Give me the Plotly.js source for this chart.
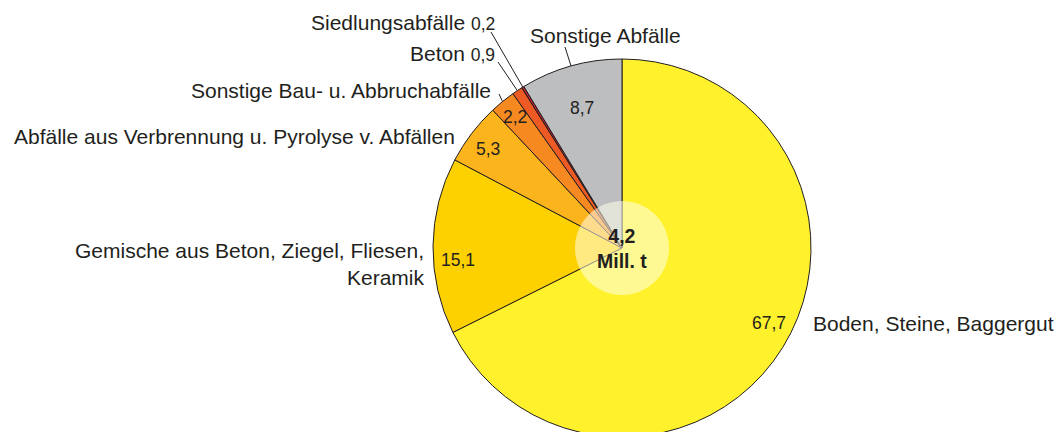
<!DOCTYPE html>
<html>
<head>
<meta charset="utf-8">
<script src="https://cdn.plot.ly/plotly-3.0.1.min.js"></script>
<style>
html,body{margin:0;padding:0;background:#fff;}
#wrap{width:1059px;height:432px;overflow:hidden;position:relative;}
#chart{width:1059px;height:440px;}
</style>
</head>
<body>
<div id="wrap"><div id="chart"></div></div>
<script>
// ---- data ----
const categories = [
  "Boden, Steine, Baggergut",
  "Gemische aus Beton, Ziegel, Fliesen, Keramik",
  "Abfälle aus Verbrennung u. Pyrolyse v. Abfällen",
  "Sonstige Bau- u. Abbruchabfälle",
  "Beton",
  "Siedlungsabfälle",
  "Sonstige Abfälle"
];
const shares = [67.7, 15.1, 5.3, 2.2, 0.9, 0.2, 8.7];
const totalValue = "4,2";
const totalUnit = "Mill. t";
const sliceColors = ["#fff12b", "#fdd100", "#fbb41b", "#f68a20", "#ee5a23", "#be1e2d", "#bcbec0"];

// ---- geometry / style ----
const W = 1059, H = 440;
const CX = 622, CY = 248, R = 189;
const INK = "#231f20";
const FONT = "Liberation Sans, Arial, Helvetica, sans-serif";
const px = (x) => x / W;
const py = (y) => 1 - y / H;
const fmt = (v) => v.toFixed(1).replace(".", ",");

const total = shares.reduce((a, b) => a + b, 0);
const midAngle = [];
let cum = 0;
shares.forEach(v => { midAngle.push((cum + v / 2) / total * 360); cum += v; });
function polar(i, k, dAng) {
  const a = (midAngle[i] + (dAng || 0)) * Math.PI / 180;
  return [CX + R * k * Math.sin(a), CY - R * k * Math.cos(a)];
}

const trace = {
  type: "pie",
  values: shares,
  labels: categories,
  sort: false,
  direction: "clockwise",
  rotation: 0,
  textinfo: "none",
  hoverinfo: "label+value",
  marker: { colors: sliceColors, line: { color: INK, width: 1 } },
  domain: { x: [px(CX - R), px(CX + R)], y: [py(CY + R), py(CY - R)] },
  showlegend: false
};

const annotations = [];
const shapes = [];
function addText(text, x, y, xanchor, size, bold, align) {
  annotations.push({
    xref: "paper", yref: "paper", x: px(x), y: py(y),
    xanchor: xanchor, yanchor: "middle", showarrow: false,
    align: align || "center",
    text: bold ? "<b>" + text + "</b>" : text,
    font: { family: FONT, size: size, color: INK }
  });
}

// value labels inside slices (radius factor, angle offset)
const inner = [[0.873, -4.7], [0.871, -4.7], [0.88, -0.7], [0.895, 0], null, null, [0.773, -0.3]];
inner.forEach((p, i) => {
  if (!p) return;
  const [x, y] = polar(i, p[0], p[1]);
  addText(fmt(shares[i]), x, y, "center", 17.5, false);
});

// outer category labels
const small = (i) => " <span style='font-size:17.5px'>" + fmt(shares[i]) + "</span>";
addText(categories[0], 811, 323, "left", 21);
addText("Gemische aus Beton, Ziegel, Fliesen,<br>Keramik", 427, 264, "right", 21, false, "right");
addText(categories[2], 457, 137, "right", 21);
addText(categories[3], 493, 90, "right", 21);
addText(categories[4] + small(4), 497, 54, "right", 21);
addText(categories[5] + small(5), 497, 22, "right", 21);
addText(categories[6], 528, 35, "left", 21);

// leader lines from slice edge to label
const leaders = { 3: [499, 94], 4: [498, 62], 5: [491, 32], 6: [565, 47] };
Object.keys(leaders).forEach(k => {
  const i = +k;
  const [ex, ey] = polar(i, 1, 0);
  const [lx, ly] = leaders[k];
  shapes.push({
    type: "line", xref: "paper", yref: "paper",
    x0: px(lx), y0: py(ly), x1: px(ex), y1: py(ey),
    line: { color: INK, width: 1 }
  });
});

// centre disc
const cr = 47;
shapes.push({
  type: "circle", xref: "paper", yref: "paper",
  x0: px(CX - cr), x1: px(CX + cr), y0: py(CY + cr), y1: py(CY - cr),
  fillcolor: "rgba(255,255,235,0.55)", line: { width: 0 }
});
addText(totalValue + "<br>" + totalUnit, CX, 248.5, "center", 19.5, true);

const layout = {
  width: W, height: H,
  margin: { l: 0, r: 0, t: 0, b: 0 },
  paper_bgcolor: "#ffffff",
  annotations: annotations,
  shapes: shapes,
  font: { family: FONT, color: INK }
};

Plotly.newPlot("chart", [trace], layout, { displayModeBar: false, staticPlot: true });
</script>
</body>
</html>
